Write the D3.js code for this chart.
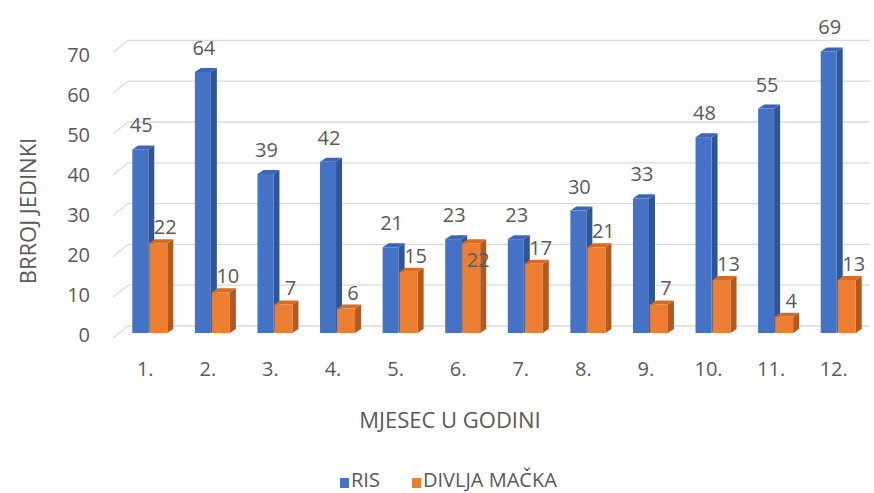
<!DOCTYPE html>
<html>
<head>
<meta charset="utf-8">
<script src="https://cdn.jsdelivr.net/npm/d3@7"></script>
<style>
  html, body { margin: 0; padding: 0; background: #fff; }
  svg { display: block; }
  text { font-family: "Open Sans", "Noto Sans", sans-serif; fill: #595959; }
</style>
</head>
<body>
<svg id="chart" width="874" height="493"></svg>
<script>
const categories = ["1.", "2.", "3.", "4.", "5.", "6.", "7.", "8.", "9.", "10.", "11.", "12."];
const risValues = [45, 64, 39, 42, 21, 23, 23, 30, 33, 48, 55, 69];
const macValues = [22, 10, 7, 6, 15, 22, 17, 21, 7, 13, 4, 13];
const yTicks = [0, 10, 20, 30, 40, 50, 60, 70];
const seriesNames = ["RIS", "DIVLJA MAČKA"];
const yTitle = "BRROJ JEDINKI";
const xTitle = "MJESEC U GODINI";

const svg = d3.select("#chart");

const x = d3.scaleBand().domain(categories).range([121, 872]).padding(0);
const yBack = d3.scaleLinear().domain([0, 70]).range([326, 40.4]);
const yFront = d3.scaleLinear().domain([0, 70]).range([333, 47.4]);
const yLabel = d3.scaleLinear().domain([0, 70]).range([335, 54.5]);

const wallLeft = 128, wallRight = 870, sideLeft = 113;

// gridlines (back wall + left wall slant)
const grid = svg.append("g");
yTicks.forEach(v => {
  grid.append("line")
    .attr("x1", wallLeft).attr("x2", wallRight)
    .attr("y1", yBack(v)).attr("y2", yBack(v))
    .attr("stroke", "#d9d9d9").attr("stroke-width", 1.3);
  grid.append("line")
    .attr("x1", sideLeft).attr("y1", yBack(v) + 12)
    .attr("x2", wallLeft).attr("y2", yBack(v))
    .attr("stroke", "#d9d9d9").attr("stroke-width", 1.3);
});

// y tick labels
svg.append("g").selectAll("text").data(yTicks).join("text")
  .attr("x", 90).attr("y", d => yLabel(d))
  .attr("dy", "0.35em")
  .attr("text-anchor", "end")
  .style("font-size", "20px")
  .text(d => d);

// 3D bars
const dx = 6, dy = 4;
const series = [
  { values: risValues, off: -20, w: 16, front: "#4472C4", side: "#2F5597", top: "#3B65B5" },
  { values: macValues, off: -3, w: 18, front: "#ED7D31", side: "#B05A1F", top: "#D46C27" }
];
const bars = svg.append("g");
categories.forEach((c, i) => {
  const cx = x(c) + x.bandwidth() / 2;
  series.forEach(s => {
    const v = s.values[i];
    const x0 = cx + s.off, x1 = x0 + s.w;
    const yt = yFront(v), yb = yFront(0);
    const g = bars.append("g");
    g.append("polygon")
      .attr("points", [[x1, yt], [x1 + dx, yt - dy], [x1 + dx, yb - dy], [x1, yb]].map(p => p.join(",")).join(" "))
      .attr("fill", s.side);
    g.append("polygon")
      .attr("points", [[x0, yt], [x0 + dx, yt - dy], [x1 + dx, yt - dy], [x1, yt]].map(p => p.join(",")).join(" "))
      .attr("fill", s.top);
    g.append("rect")
      .attr("x", x0).attr("y", yt)
      .attr("width", s.w).attr("height", yb - yt)
      .attr("fill", s.front);
  });
});

// data labels
const labels = svg.append("g").style("font-size", "20px");
categories.forEach((c, i) => {
  const cx = x(c) + x.bandwidth() / 2;
  const r = risValues[i], m = macValues[i];
  labels.append("text")
    .attr("x", cx - 11).attr("y", yFront(r) - 24)
    .attr("dy", "0.35em").attr("text-anchor", "middle")
    .text(r);
  const collide = Math.abs(r - m) < 3;
  labels.append("text")
    .attr("x", cx + 13).attr("y", collide ? yFront(m) + 17 : yFront(m) - 16)
    .attr("dy", "0.35em").attr("text-anchor", "middle")
    .text(m);
});

// category labels
svg.append("g").selectAll("text").data(categories).join("text")
  .attr("x", d => x(d) + x.bandwidth() / 2 - 7)
  .attr("y", 369).attr("dy", "0.35em")
  .attr("text-anchor", "middle")
  .style("font-size", "20px")
  .text(d => d);

// axis titles
svg.append("text")
  .attr("x", 450).attr("y", 420).attr("dy", "0.35em")
  .attr("text-anchor", "middle")
  .style("font-size", "22px")
  .text(xTitle);

svg.append("text")
  .attr("transform", "translate(28,211) rotate(-90)")
  .attr("dy", "0.35em")
  .attr("text-anchor", "middle")
  .style("font-size", "22px")
  .text(yTitle);

// legend
const legend = svg.append("g").style("font-size", "20px");
const legendItems = [
  { name: seriesNames[0], color: "#4472C4", x: 340 },
  { name: seriesNames[1], color: "#ED7D31", x: 412 }
];
legendItems.forEach(it => {
  legend.append("rect").attr("x", it.x).attr("y", 478).attr("width", 9).attr("height", 10).attr("fill", it.color);
  legend.append("text").attr("x", it.x + 11).attr("y", 480).attr("dy", "0.35em").text(it.name);
});
</script>
</body>
</html>
